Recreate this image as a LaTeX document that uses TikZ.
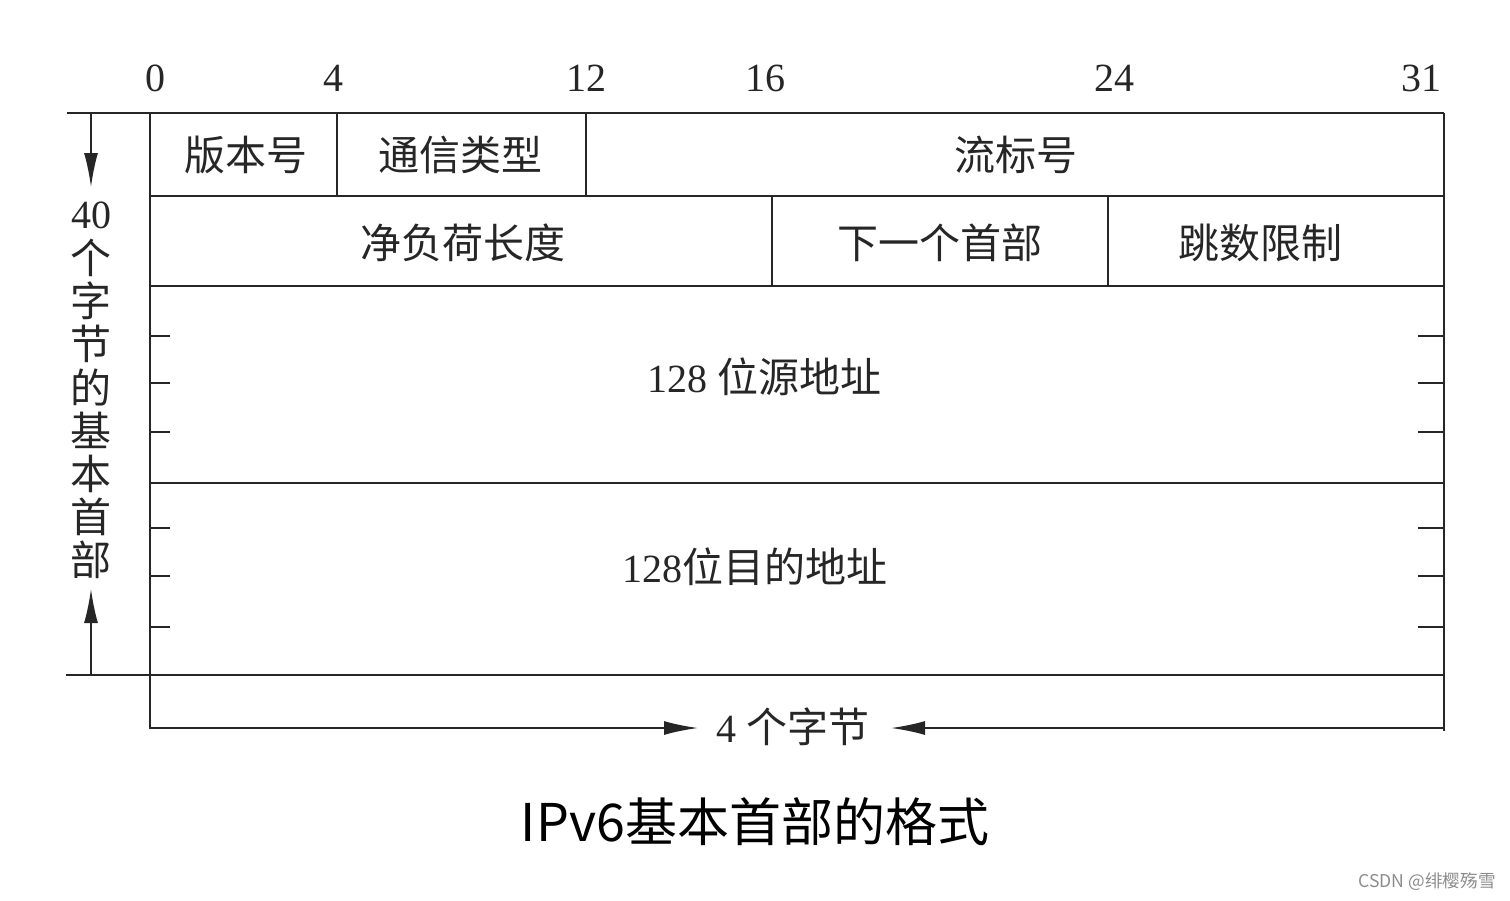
\documentclass[tikz,border=0pt]{standalone}
\usepackage{fontspec}
\setmainfont{Liberation Serif}
\newfontfamily\cjk{Noto Sans CJK SC}
\usetikzlibrary{arrows.meta}
\begin{document}
\begin{tikzpicture}[x=0.5pt,y=-0.5pt,
  frame/.style={line width=1.4pt,draw=black!85},
  tick/.style={line width=1.4pt,draw=black!85},
  dim/.style={line width=0.9pt,draw=black!85,-{Latex[length=17pt,width=7pt]}},
  lbl/.style={inner sep=0pt,font=\fontsize{20.5}{22}\selectfont\cjk,text=black!85},
  num/.style={inner sep=0pt,font=\fontsize{20}{22}\selectfont,text=black!85}]
\useasboundingbox (0,0) rectangle (1510,900);
% bit numbers
\foreach \n/\x in {0/155,4/333,12/586,16/765,24/1114,31/1421}
  \node[num] (b\n) at (\x,78) {\n};
% frame
\coordinate (tl) at (150,113); \coordinate (tr) at (1444,113);
\draw[frame] (67,113) -- (tr);
\draw[frame] (tl) -- (150,729);
\draw[frame] (tr) -- (1444,731);
\draw[frame] (150,196) -- (1444,196);
\draw[frame] (150,286) -- (1444,286);
\draw[frame] (150,483) -- (1444,483);
\draw[frame] (66,675) -- (1444,675);
\draw[frame] (337,113) -- (337,196);
\draw[frame] (586,113) -- (586,196);
\draw[frame] (772,196) -- (772,286);
\draw[frame] (1108,196) -- (1108,286);
% ticks
\foreach \y in {336,383,432,528,576,627}{
  \draw[tick] (150,\y) -- (170,\y);
  \draw[tick] (1418,\y) -- (1444,\y);
}
% field labels
\node[lbl] (ver) at (246,155) {版本号};
\node[lbl] (tc) at (460,155) {通信类型};
\node[lbl] (fl) at (1016,155) {流标号};
\node[lbl] (pl) at (463,243) {净负荷长度};
\node[lbl] (nh) at (940,243) {下一个首部};
\node[lbl] (hl) at (1260,243) {跳数限制};
\node[num] (src) at (764,377) {128 {\fontsize{20.5}{22}\selectfont\cjk 位源地址}};
\node[num] (dst) at (755,567) {128{\fontsize{20.5}{22}\selectfont\cjk 位目的地址}};
% left vertical label
\foreach \c [count=\i] in {40,个,字,节,的,基,本,首,部}
  \node[lbl,font=\fontsize{20.5}{22}\selectfont\cjk] (v\i) at (91,{215+(\i-1)*43.1}) {\ifnum\i=1 {\rmfamily\fontsize{20}{22}\selectfont 40}\else\c\fi};
\coordinate (la) at (91,113); \coordinate (lat) at (91,187);
\coordinate (lb) at (91,675); \coordinate (lbt) at (91,589);
\draw[dim] (la) -- (lat);
\draw[dim] (lb) -- (lbt);
% bottom width label
\node[num] (w) at (793,727) {4 {\fontsize{20.5}{22}\selectfont\cjk 个字节}};
\coordinate (bl) at (150,728); \coordinate (br) at (1444,728);
\coordinate (blt) at (698,728); \coordinate (brt) at (891,728);
\draw[dim] (bl) -- (blt);
\draw[dim] (br) -- (brt);
% title
\node[inner sep=0pt,font=\fontsize{26}{30}\selectfont\cjk] (title) at (755,822) {IPv6基本首部的格式};
\node[inner sep=0pt,anchor=east,font=\fontsize{8.8}{10}\selectfont\cjk,text=black!45] (wm) at (1496,882) {CSDN @绯樱殇雪};
\end{tikzpicture}
\end{document}
